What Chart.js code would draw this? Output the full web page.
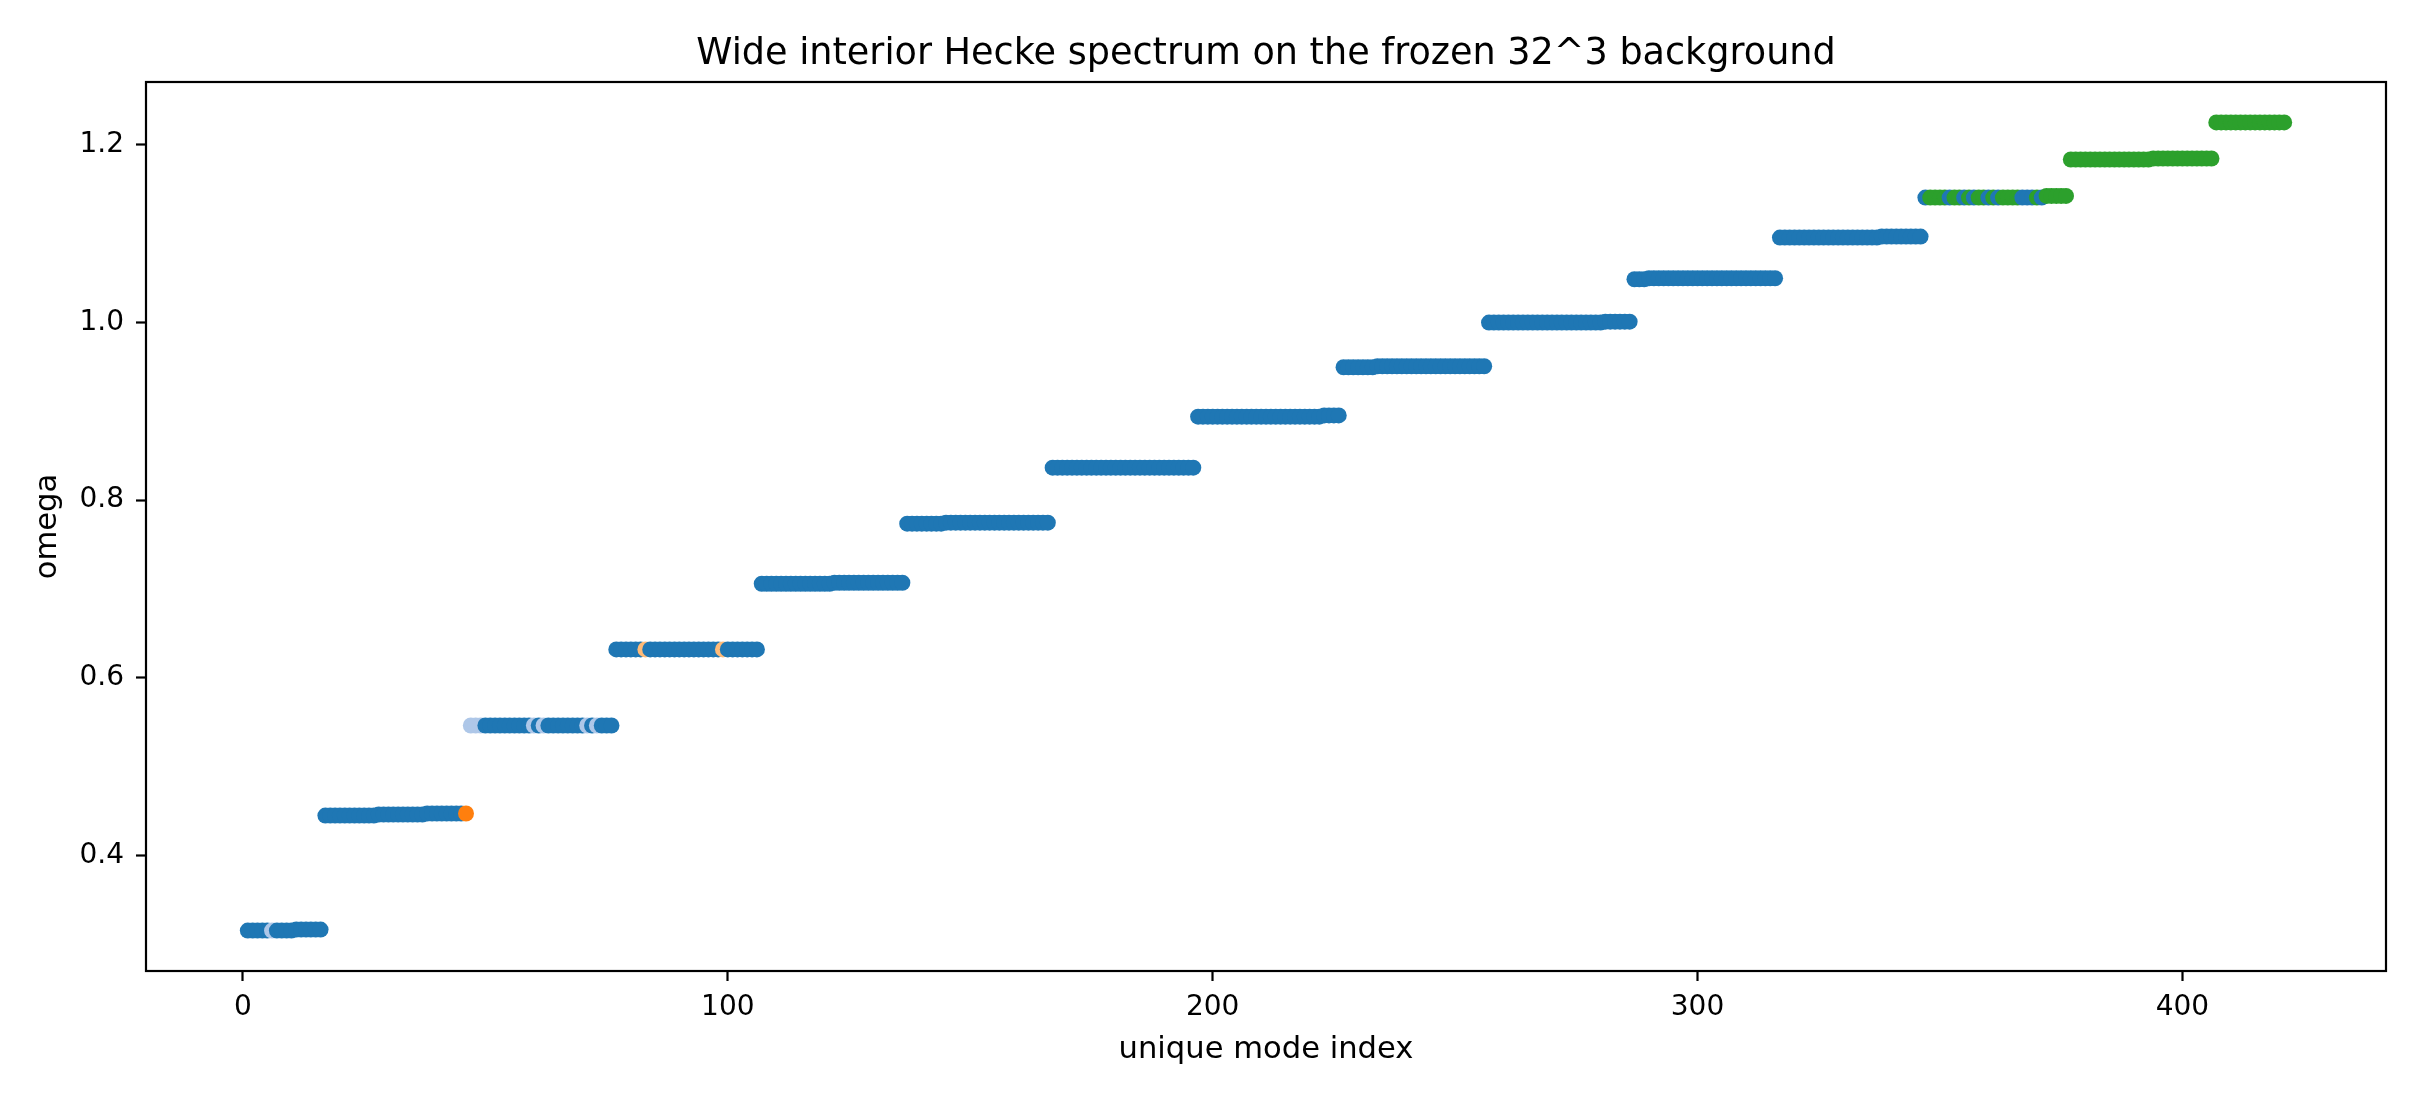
<!DOCTYPE html>
<html>
<head>
<meta charset="utf-8">
<script src="https://cdn.jsdelivr.net/npm/chart.js@4.4.1/dist/chart.umd.min.js"></script>
<style>
  html, body { margin: 0; padding: 0; background: #fff; }
  #wrap { width: 2420px; height: 1100px; }
</style>
</head>
<body>
<div id="wrap"><canvas id="chart" width="2420" height="1100"></canvas></div>
<script>
// omega plateaus: each run ends at runLast[k] (mode index) and sits at runOmega[k]
const runLast = [10, 16, 27, 37, 46, 76, 106, 121, 136, 144, 166, 196, 222, 226,
  233, 256, 280, 286, 289, 316, 337, 346, 371, 376, 393, 406, 421];
const runOmega = [0.3156, 0.3167, 0.4450, 0.4461, 0.4473, 0.5463, 0.6319, 0.7058,
  0.7069, 0.7734, 0.7745, 0.8364, 0.8938, 0.8952, 0.9494, 0.9505, 0.9996, 1.0007,
  1.0484, 1.0495, 1.0953, 1.0964, 1.1403, 1.1421, 1.1831, 1.1842, 1.2248];

// colour class of each mode (tab20 index), same run layout
const classLast = [5, 6, 45, 46, 49, 59, 60, 61, 62, 70, 71, 72, 73, 82, 83, 98, 99,
  347, 351, 352, 354, 355, 356, 357, 359, 360, 361, 362, 366, 369, 370, 371, 421];
const classId = [0, 1, 0, 2, 1, 0, 1, 0, 1, 0, 1, 0, 1, 0, 3, 0, 3,
  0, 4, 0, 4, 0, 4, 0, 4, 0, 4, 0, 4, 0, 4, 0, 4];
const tab20 = ['#1f77b4', '#aec7e8', '#ff7f0e', '#ffbb78', '#2ca02c'];

const xTicks = [0, 100, 200, 300, 400];
const yTicks = [0.4, 0.6, 0.8, 1.0, 1.2];

const FONT = 'DejaVu Sans';

const points = [];
const colors = [];
let r = 0, c = 0;
for (let i = 1; i <= runLast[runLast.length - 1]; i++) {
  while (i > runLast[r]) r++;
  while (i > classLast[c]) c++;
  points.push({ x: i, y: runOmega[r] });
  colors.push(tab20[classId[c]]);
}

const frame = {
  id: 'frame',
  afterDatasetsDraw(chart) {
    const { ctx, chartArea: a } = chart;
    ctx.save();
    ctx.strokeStyle = '#000';
    ctx.lineWidth = 2.2;
    ctx.strokeRect(a.left, a.top, a.right - a.left, a.bottom - a.top);
    ctx.fillStyle = '#000';
    ctx.font = '36.6px "' + FONT + '"';
    ctx.textAlign = 'center';
    ctx.textBaseline = 'alphabetic';
    ctx.fillText('Wide interior Hecke spectrum on the frozen 32^3 background', (a.left + a.right) / 2, 64);
    ctx.restore();
  }
};

const axisGrid = {
  drawOnChartArea: false,
  drawTicks: true,
  tickLength: 10,
  tickWidth: 2.2,
  tickColor: '#000'
};

new Chart(document.getElementById('chart'), {
  type: 'scatter',
  data: {
    datasets: [{
      data: points,
      pointRadius: 8,
      pointBorderWidth: 0,
      pointBackgroundColor: colors,
      pointBorderColor: colors
    }]
  },
  options: {
    responsive: false,
    animation: false,
    events: [],
    layout: { padding: { left: 0, right: 34, top: 82, bottom: 0 } },
    plugins: {
      legend: { display: false },
      tooltip: { enabled: false }
    },
    scales: {
      x: {
        type: 'linear',
        min: -20,
        max: 442,
        afterBuildTicks: s => { s.ticks = xTicks.map(v => ({ value: v })); },
        afterFit: s => { s.height = 129; },
        grid: axisGrid,
        border: { display: false },
        ticks: { color: '#000', font: { family: FONT, size: 28 }, padding: 10, maxRotation: 0 },
        title: {
          display: true, text: 'unique mode index', color: '#000',
          font: { family: FONT, size: 30.6 }, padding: { top: 0, bottom: 32 }
        }
      },
      y: {
        type: 'linear',
        min: 0.2701,
        max: 1.2703,
        afterBuildTicks: s => { s.ticks = yTicks.map(v => ({ value: v })); },
        afterFit: s => { s.width = 146; },
        grid: axisGrid,
        border: { display: false },
        ticks: {
          color: '#000', font: { family: FONT, size: 28 }, padding: 12,
          callback: v => v.toFixed(1)
        },
        title: {
          display: true, text: 'omega', color: '#000',
          font: { family: FONT, size: 30.6 }, padding: { top: 30, bottom: 0 }
        }
      }
    }
  },
  plugins: [frame]
});
</script>
</body>
</html>
